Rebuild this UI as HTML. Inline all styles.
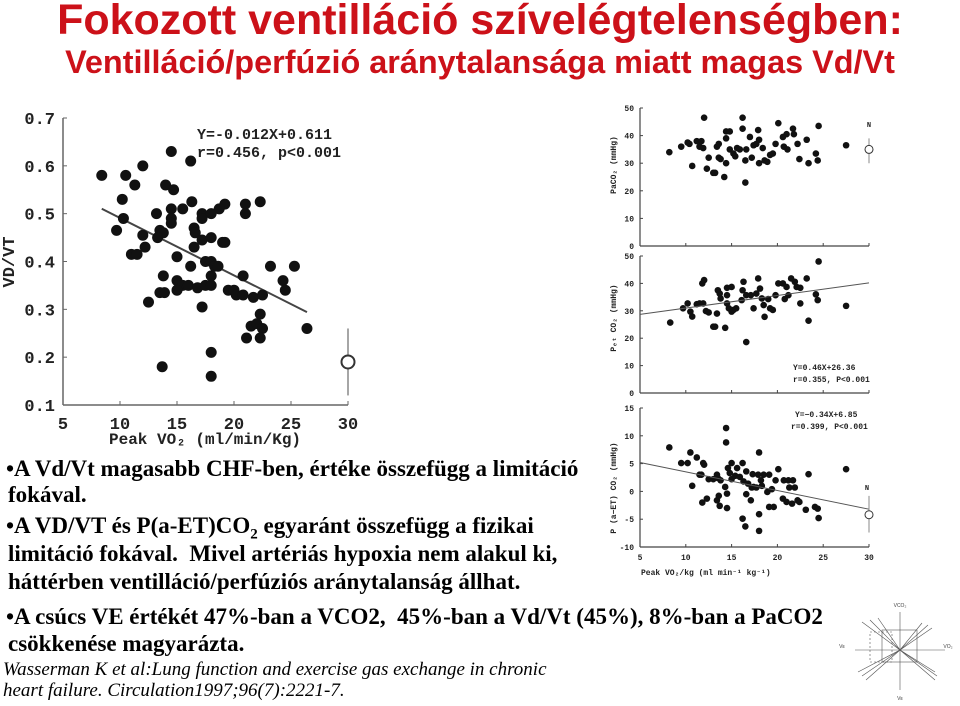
<!DOCTYPE html>
<html><head><meta charset="utf-8">
<style>
html,body{margin:0;padding:0;background:#fff;}
body{width:960px;height:706px;position:relative;overflow:hidden;font-family:"Liberation Serif",serif;}
.t{position:absolute;white-space:nowrap;}
#title{left:0;width:960px;text-align:center;top:-4px;font:bold 43px "Liberation Sans",sans-serif;color:#cc1119;}
#subtitle{left:0;width:960px;text-align:center;top:44px;font:bold 32.4px "Liberation Sans",sans-serif;color:#cc1119;}
.b{font-weight:bold;font-size:23px;color:#000;}
.c{font-style:italic;font-size:19px;color:#000;}
svg{position:absolute;left:0;top:0;}
</style></head><body>
<div id="title" class="t">Fokozott ventilláció szívelégtelenségben:</div>
<div id="subtitle" class="t">Ventilláció/perfúzió aránytalansága miatt magas Vd/Vt</div>

<svg id="chart" width="960" height="706"></svg>

<div class="t b" style="left:6px;top:456px">•A Vd/Vt magasabb CHF-ben, értéke összefügg a limitáció</div>
<div class="t b" style="left:8px;top:482px">fokával.</div>
<div class="t b" style="left:6px;top:513px">•A VD/VT és P(a-ET)CO<sub style="font-size:15px">2</sub> egyaránt összefügg a fizikai</div>
<div class="t b" style="left:8px;top:541px">limitáció fokával.&nbsp; Mivel artériás hypoxia nem alakul ki,</div>
<div class="t b" style="left:8px;top:569px">háttérben ventilláció/perfúziós aránytalanság állhat.</div>
<div class="t b" style="left:6px;top:604px">•A csúcs VE értékét 47%-ban a VCO2,&nbsp; 45%-ban a Vd/Vt (45%), 8%-ban a PaCO2</div>
<div class="t b" style="left:8px;top:631px">csökkenése magyarázta.</div>
<div class="t c" style="left:3px;top:659px">Wasserman K et al:Lung function and exercise gas exchange in chronic</div>
<div class="t c" style="left:3px;top:680px">heart failure. Circulation1997;96(7):2221-7.</div>

<script>
// ---- data: left chart VD/VT ----
const vdX=[8.4,10.5,12,11.3,14.5,16.2,14,14.7,10.2,16.3,22.3,14.5,15.5,21,19.2,18.7,21,13.2,17.2,18,10.3,14.5,17.2,14.5,9.7,12,13.5,13.8,13.3,16.5,16.6,19,19.2,17.2,18,12.2,16.5,11,11.5,15,16.2,17.5,18,18.3,18.6,20.8,23.2,25.3,13.8,15,15.5,15,16,16.8,17.5,18,18,19.5,20,20.2,20.8,21.7,22.5,24.3,24.5,13.5,13.9,12.5,17.2,22.3,21.5,22,22.5,21.1,22.3,26.4,18,13.7,18];
const vdY=[0.58,0.58,0.60,0.56,0.63,0.61,0.56,0.55,0.53,0.525,0.525,0.51,0.51,0.52,0.52,0.51,0.50,0.50,0.50,0.50,0.49,0.49,0.49,0.48,0.465,0.455,0.465,0.46,0.45,0.47,0.46,0.44,0.44,0.445,0.45,0.43,0.43,0.415,0.415,0.41,0.39,0.40,0.40,0.39,0.39,0.37,0.39,0.39,0.37,0.36,0.35,0.34,0.35,0.345,0.35,0.37,0.35,0.34,0.34,0.33,0.33,0.325,0.33,0.36,0.34,0.335,0.335,0.315,0.305,0.29,0.265,0.27,0.26,0.24,0.24,0.26,0.21,0.18,0.16];
const vdLineX=[8.4,26.4];
const vdSlope=-0.012, vdIntercept=0.611;
const vdNormal=[30,0.19,0.12,0.26];
const vdYTicks=[0.1,0.2,0.3,0.4,0.5,0.6,0.7];
const xTicks=[5,10,15,20,25,30];
// ---- PaCO2 ----
const paX=[8.2,9.5,10.2,10.4,10.7,11.2,11.5,11.7,11.9,12,12.3,12.5,13,13.2,13.4,13.6,13.6,13.8,14.2,14.4,14.4,14.4,14.8,14.8,15.2,15.4,15.6,15.9,16.2,16.2,16.5,16.5,16.6,17,17.2,17.4,17.7,17.9,18,18,18.4,18.6,18.9,19.2,19.5,19.8,20.1,20.6,20.7,21,21.1,21.7,21.8,22.2,22.4,23.2,23.4,24.2,24.4,24.5,27.5];
const paY=[34,36,37.5,37,29,38,36,38,35.5,46.5,28,32,26.5,26.5,36,37,32,31.5,25,41.5,39,30,41.5,35,33.5,32.5,35.5,35,46.5,42.5,31,23,35,39.5,32,36.5,37,42,38.5,30,35.5,31,30.5,33,33.5,37,44.5,39.5,36,40.5,35,42.5,40.5,37,31.5,38.5,30,33.5,31,43.5,36.5];
const paNormal=[30,35,30,39];
// ---- PETCO2 ----
const peX=[8.3,9.7,10.2,10.5,10.7,11.2,11.5,11.8,12,11.9,12.2,12.5,13,13.2,13.4,13.5,13.7,13.8,14.3,14.5,14.5,14.5,14.7,15,15,15.2,15.5,16.1,16.2,16.3,16.6,16.6,17.1,17.4,17.7,17.9,18.1,18.3,18.5,18.6,19,19.2,19.5,19.8,20.1,20.6,20.8,21,21.2,21.5,21.9,22.1,22.5,22.5,23.2,23.4,24.2,24.4,24.5,27.5];
const peY=[25.7,30.9,32.7,29.7,27.9,32.4,32.7,40,41.2,32.7,29.9,29.4,24.2,24.2,29,37.5,36.3,34.5,23.8,38.4,35.7,32.7,30.9,29.7,38.7,30.3,30.9,33.9,37.5,40.6,18.6,35.7,35.7,30.9,36.3,41.8,38.1,34.5,32.1,27.8,34.3,30.9,30.3,35.7,40,40,34.3,38.7,35.7,41.8,40.6,38.7,38.4,32.7,41.8,26.4,36,33.9,48,31.8];
const peLineX=[5,30], peLineY=[28.7,40.2];
// ---- P(a-ET)CO2 ----
const deX=[8.2,9.5,10.2,10.5,10.7,11.2,11.5,11.7,11.9,12,11.8,12.3,12.5,13,13.4,13.5,13.4,13.6,13.7,13.8,14.3,14.4,14.4,14.5,14.5,14.6,14.8,15,15,15.4,15.6,15.9,16.2,16.2,16.3,16.5,16.6,16.6,16.8,17.1,17.2,17.3,17.4,17.7,17.9,18,18,18,18.2,18.3,18.5,18.9,19.1,19.1,19.4,19.6,19.8,20.1,20.6,20.7,21,21.2,21.3,21.6,21.7,21.9,22.2,22.4,23.1,23.4,24.1,24.4,24.5,27.5];
const deY=[7.9,5.1,5.1,7,1,6.1,3,3,5.1,4.8,-2,-1.3,2.2,2.2,3,2.4,-1.6,-0.8,-2.6,2,0.8,11.4,8.8,-0.4,-3,4.2,3.3,2.2,5.1,2.8,4.2,2.6,5.1,-4.9,1.8,-6.3,3.6,-0.5,1.4,-1.6,0.7,3.1,0.8,0.7,3,7,-7.1,-4.1,2,1,3,-0.1,3,-2.8,0.4,-2.8,2,4,-1.3,2,-1.9,2,0.7,-2.2,2,0.7,-1.6,-1.9,-3.3,3.1,-2.8,-3.1,-4.8,4];
const deLineX=[5,30], deLineY=[5.2,-3.2];
const deNormal=[30,-4.2,-7.4,-0.8];

const NS="http://www.w3.org/2000/svg";
const svg=document.getElementById('chart');
function mk(tag,attrs,parent){const e=document.createElementNS(NS,tag);for(const k in attrs)e.setAttribute(k,attrs[k]);(parent||svg).appendChild(e);return e;}
function txt(x,y,s,size,anchor,parent,extra){const e=mk('text',Object.assign({x:x,y:y,'font-size':size,'text-anchor':anchor||'start','font-family':'"Liberation Mono",monospace','font-weight':'bold',fill:'#222'},extra||{}),parent);e.textContent=s;return e;}

const L={x0:63,x1:348,y0:405,y1:118};
const lx=v=>L.x0+(v-5)/25*(L.x1-L.x0);
const ly=v=>L.y0-(v-0.1)/0.6*(L.y0-L.y1);
const rx=v=>640+(v-5)/25*229;
const pay=v=>246-v/50*138;
const pey=v=>393-v/50*137;
const dey=v=>547-(v+10)/25*139;

// ---- left chart ----
const gL=mk('g',{});


mk('line',{x1:L.x0,y1:L.y1,x2:L.x0,y2:L.y0,stroke:'#666','stroke-width':1.5},gL);
mk('line',{x1:L.x0,y1:L.y0,x2:L.x1,y2:L.y0,stroke:'#666','stroke-width':1.5},gL);
vdYTicks.forEach(t=>{mk('line',{x1:L.x0,x2:L.x0+4,y1:ly(t),y2:ly(t),stroke:'#666'},gL);
 const e=txt(L.x0-8,ly(t)+6,t.toFixed(1),17,'end',gL);});
xTicks.forEach(t=>{mk('line',{x1:lx(t),x2:lx(t),y1:L.y0,y2:L.y0-4,stroke:'#666'},gL);
 const e=txt(lx(t),L.y0+24,String(t),17,'middle',gL);});
let e=txt(14,262,'VD/VT',17,'middle',gL,{transform:'rotate(-90 14 262)'});

e=txt(205,444,'Peak VO\u2082 (ml/min/Kg)',16,'middle',gL);

e=txt(197,139,'Y=-0.012X+0.611',15,'start',gL);

e=txt(197,157,'r=0.456, p<0.001',15,'start',gL);

e=mk('line',{x1:lx(vdLineX[0]),y1:ly(vdSlope*vdLineX[0]+vdIntercept),x2:lx(vdLineX[1]),y2:ly(vdSlope*vdLineX[1]+vdIntercept),stroke:'#444','stroke-width':2},gL);

vdX.forEach((x,i)=>{const c=mk('circle',{cx:lx(x),cy:ly(vdY[i]),r:5.5,fill:'#111'},gL);
 
 });
mk('line',{x1:lx(vdNormal[0]),x2:lx(vdNormal[0]),y1:ly(vdNormal[2]),y2:ly(vdNormal[3]),stroke:'#888','stroke-width':1.5},gL);
e=mk('circle',{cx:lx(vdNormal[0]),cy:ly(vdNormal[1]),r:6.5,fill:'#fff',stroke:'#333','stroke-width':2},gL);


// ---- right charts ----
function panel(name,yfn,ticks,xs,ys,dotR){
 const g=mk('g',{});
 
 
 const yt=yfn(ticks[ticks.length-1]), yb=yfn(ticks[0]);
 mk('line',{x1:640,x2:640,y1:yt,y2:yb,stroke:'#444','stroke-width':1.2},g);
 mk('line',{x1:640,x2:869,y1:yb,y2:yb,stroke:'#444','stroke-width':1.2},g);
 ticks.forEach(t=>{mk('line',{x1:640,x2:643,y1:yfn(t),y2:yfn(t),stroke:'#444'},g);
  const e=txt(634,yfn(t)+3,String(t),8,'end',g);});
 xTicks.forEach(t=>mk('line',{x1:rx(t),x2:rx(t),y1:yb,y2:yb-3,stroke:'#444'},g));
 xs.forEach((x,i)=>{const c=mk('circle',{cx:rx(x),cy:yfn(ys[i]),r:dotR,fill:'#111'},g);
  
  });
 return g;
}
const gA=panel('paco2-chart',pay,[0,10,20,30,40,50],paX,paY,3.3);
mk('line',{x1:rx(paNormal[0]),x2:rx(paNormal[0]),y1:pay(paNormal[2]),y2:pay(paNormal[3]),stroke:'#888'},gA);
mk('circle',{cx:rx(paNormal[0]),cy:pay(paNormal[1]),r:4,fill:'#fff',stroke:'#333'},gA);
txt(869,127,'N',7,'middle',gA);
txt(616,165,'PaCO\u2082 (mmHg)',8,'middle',gA,{transform:'rotate(-90 616 165)'});

const gB=panel('petco2-chart',pey,[0,10,20,30,40,50],peX,peY,3.3);
mk('line',{x1:rx(peLineX[0]),y1:pey(peLineY[0]),x2:rx(peLineX[1]),y2:pey(peLineY[1]),stroke:'#555','stroke-width':1},gB);
txt(616,318,'P\u2091\u209c CO\u2082 (mmHg)',8,'middle',gB,{transform:'rotate(-90 616 318)'});
txt(793,370,'Y=0.46X+26.36',8,'start',gB);
txt(793,382,'r=0.355, P<0.001',8,'start',gB);

const gC=panel('pa-etco2-chart',dey,[-10,-5,0,5,10,15],deX,deY,3.3);
mk('line',{x1:rx(deLineX[0]),y1:dey(deLineY[0]),x2:rx(deLineX[1]),y2:dey(deLineY[1]),stroke:'#555','stroke-width':1},gC);
mk('line',{x1:rx(deNormal[0]),x2:rx(deNormal[0]),y1:dey(deNormal[2]),y2:dey(deNormal[3]),stroke:'#888'},gC);
mk('circle',{cx:rx(deNormal[0]),cy:dey(deNormal[1]),r:4,fill:'#fff',stroke:'#333'},gC);
txt(867,490,'N',7,'middle',gC);
xTicks.forEach(t=>txt(rx(t),560,String(t),8,'middle',gC));
txt(616,488,'P (a\u2212ET) CO\u2082 (mmHg)',8,'middle',gC,{transform:'rotate(-90 616 488)'});
txt(795,417,'Y=\u22120.34X+6.85',8,'start',gC);
txt(791,429,'r=0.399, P<0.001',8,'start',gC);
txt(641,575,'Peak VO\u2082/kg (ml min\u207b\u00b9 kg\u207b\u00b9)',8,'start',gC);

// ---- small nomogram diagram ----
const gD=mk('g',{stroke:'#555','stroke-width':0.6,fill:'none'});


const cx=900,cy=650;
mk('line',{x1:cx,y1:612,x2:cx,y2:690},gD);
mk('line',{x1:855,y1:cy,x2:945,y2:cy},gD);
[[862,622],[870,620],[878,618],[922,623],[928,625],[932,628],[858,672],[862,676],[866,680],[935,672],[937,676],[935,680]].forEach(p=>mk('line',{x1:cx,y1:cy,x2:p[0],y2:p[1]},gD));
mk('rect',{x:882,y:630,width:35,height:32},gD);
mk('rect',{x:870,y:632,width:22,height:30,'stroke-dasharray':'2 2'},gD);
[['VCO\u2082',900,607],['V\u1d07',842,648],['VO\u2082',948,648],['V\u1d07',900,700]].forEach(a=>{const t=mk('text',{x:a[1],y:a[2],'font-size':5,'text-anchor':'middle',fill:'#444',stroke:'none','font-family':'"Liberation Sans",sans-serif'},gD);t.textContent=a[0];});
</script>
</body></html>
